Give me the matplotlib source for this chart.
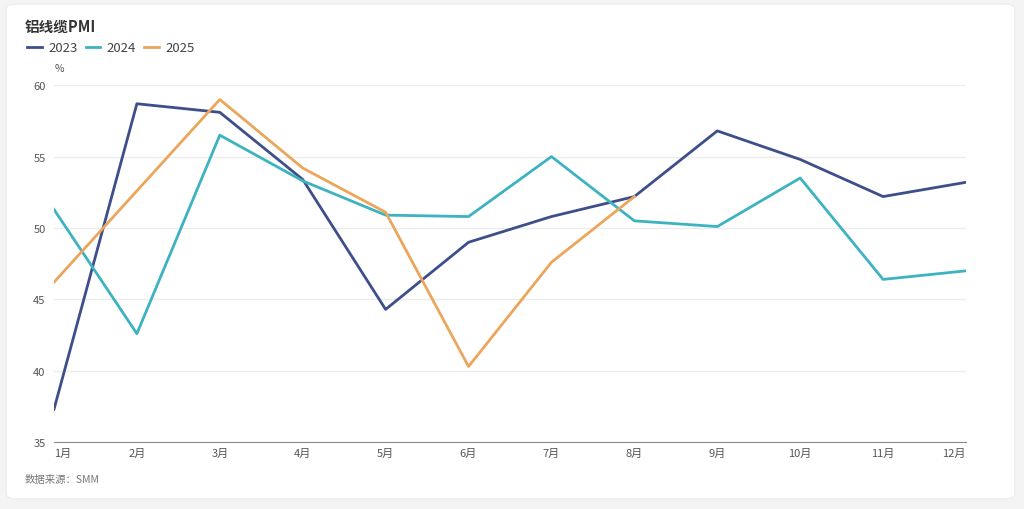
import matplotlib.pyplot as plt
from matplotlib.patches import FancyBboxPatch

plt.rcParams['font.family'] = ['Noto Sans CJK SC', 'DejaVu Sans']

# Daten
monate = ['1月', '2月', '3月', '4月', '5月', '6月', '7月', '8月', '9月', '10月', '11月', '12月']
pmi_2023 = [37.3, 58.7, 58.1, 53.4, 44.3, 49.0, 50.8, 52.2, 56.8, 54.8, 52.2, 53.2]
pmi_2024 = [51.3, 42.6, 56.5, 53.3, 50.9, 50.8, 55.0, 50.5, 50.1, 53.5, 46.4, 47.0]
pmi_2025 = [46.2, 52.6, 59.0, 54.2, 51.1, 40.3, 47.6, 52.2]

farben = {'2023': '#3d4e8b', '2024': '#3db3c2', '2025': '#eca65b'}

fig = plt.figure(figsize=(10.24, 5.1), dpi=100)
fig.patch.set_facecolor('#f4f4f4')
karte = FancyBboxPatch((0.006, 0.02), 0.985, 0.97, boxstyle='round,pad=0,rounding_size=0.01',
                       transform=fig.transFigure, facecolor='white', edgecolor='#ececec',
                       lw=0.8, zorder=-10)
fig.patches.append(karte)

ax = fig.add_axes([0.0527, 0.131, 0.8907, 0.700])
ax.set_facecolor('none')
ax.set_zorder(5)

x = list(range(len(monate)))
ax.plot(x, pmi_2023, color=farben['2023'], lw=2, label='2023')
ax.plot(x, pmi_2024, color=farben['2024'], lw=2, label='2024')
ax.plot(x[:len(pmi_2025)], pmi_2025, color=farben['2025'], lw=2, label='2025')

ax.set_xlim(0, 11)
ax.set_ylim(35, 60)
ax.set_yticks([35, 40, 45, 50, 55, 60])
ax.set_xticks(x)
ax.set_xticklabels(monate)
ax.grid(axis='y', color='#ececec', lw=1)
ax.set_axisbelow(True)
for s in ['top', 'right', 'left']:
    ax.spines[s].set_visible(False)
ax.spines['bottom'].set_color('#8a8a8a')
ax.tick_params(axis='both', length=0, labelsize=8, labelcolor='#555555')
ax.tick_params(axis='y', pad=6)
ax.tick_params(axis='x', pad=4)
# Randbeschriftungen innerhalb der Achse halten
xl = ax.get_xticklabels()
xl[0].set_ha('left')
xl[-1].set_ha('right')

fig.text(0.0245, 0.948, '铝线缆PMI', fontsize=10.5, fontweight='bold', color='#333333', va='center')
fig.text(0.053, 0.865, '%', fontsize=7.5, color='#555555', va='center')
fig.text(0.0245, 0.058, '数据来源：SMM', fontsize=7.5, color='#777777', style='italic', va='center')

ax.legend(loc='center left', bbox_to_anchor=(0.015, 0.904), bbox_transform=fig.transFigure,
          ncol=3, frameon=False, fontsize=9.5, handlelength=1.1, handletextpad=0.5,
          columnspacing=0.6, labelcolor='#444444')

fig.savefig('out.png', dpi=100, facecolor=fig.get_facecolor())
